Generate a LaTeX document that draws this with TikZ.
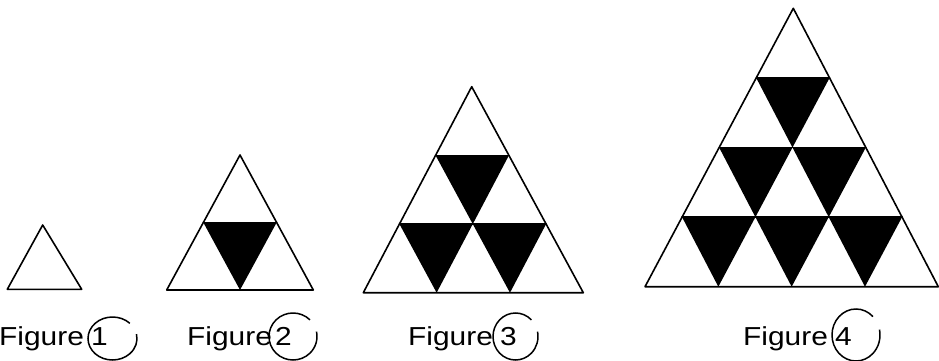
\documentclass[tikz,border=0pt]{standalone}
\usepackage{fontspec}
\setmainfont[FakeStretch=1.15]{Liberation Sans}
\tikzset{
  edge/.style={line width=1.6pt, line join=round, line cap=round},
  lbl/.style={inner sep=0pt, anchor=base west, font=\fontsize{26}{30}\selectfont},
  ring/.style={line width=1.5pt}
}
% #1 apex x, #2 apex y, #3 base-left x, #4 base-right x, #5 base y, #6 rows
\newcommand\figtri[6]{%
  \foreach \i in {1,...,#6}{%
    \pgfmathsetmacro\ya{#2+(\i-1)/#6*(#5-#2)}%
    \pgfmathsetmacro\yb{#2+\i/#6*(#5-#2)}%
    \pgfmathsetmacro\xla{#1+(\i-1)/#6*(#3-#1)}%
    \pgfmathsetmacro\xlb{#1+\i/#6*(#3-#1)}%
    \pgfmathsetmacro\w{(#4-#3)/#6}%
    \pgfmathtruncatemacro\m{\i-1}%
    \ifnum\m>0
      \foreach \k in {1,...,\m}{%
        \fill ({\xla+(\k-1)*\w},\ya) -- ({\xla+\k*\w},\ya) -- ({\xlb+\k*\w},\yb) -- cycle;
      }
      \draw[edge] (\xla,\ya) -- ({\xla+\m*\w},\ya);
    \fi
  }
  \draw[edge] (#1,#2) -- (#3,#5) -- (#4,#5) -- cycle;
}
% ring with a small gap at the upper right: centre x, centre y, rx, ry (pt)
\newcommand\ringat[4]{%
  \draw[ring] (#1,#2) ++(45:#3pt and #4pt)
    arc[start angle=45, end angle=372, x radius=#3pt, y radius=#4pt];
}
\begin{document}
\begin{tikzpicture}[x=1pt,y=-1pt]
\useasboundingbox (0,0) rectangle (939,361);
\fill[white] (0,0) rectangle (939,361);

% Figure 1
\figtri{42.7}{225}{7.3}{81.7}{289.3}{1}
% Figure 2
\figtri{240}{155}{166.7}{313.3}{290}{2}
% Figure 3
\figtri{471.7}{86.7}{363.3}{583.3}{292.7}{3}
% Figure 4
\figtri{793.3}{8.3}{645}{938.3}{286.7}{4}

% labels
\node[lbl] (f1) at (-1,345) {Figure};
\node[lbl] (n1) at (91,345) {1};
\ringat{112.5}{338.5}{24.5}{21.5}

\node[lbl] (f2) at (187,345) {Figure};
\node[lbl] (n2) at (275,345) {2};
\ringat{293}{336.5}{24}{23.5}

\node[lbl] (f3) at (408,345) {Figure};
\node[lbl] (n3) at (500,345) {3};
\ringat{515.5}{336.5}{22.5}{23.5}

\node[lbl] (f4) at (743,345) {Figure};
\node[lbl] (n4) at (835,345) {4};
\ringat{856}{335}{24}{26}
\end{tikzpicture}
\end{document}
